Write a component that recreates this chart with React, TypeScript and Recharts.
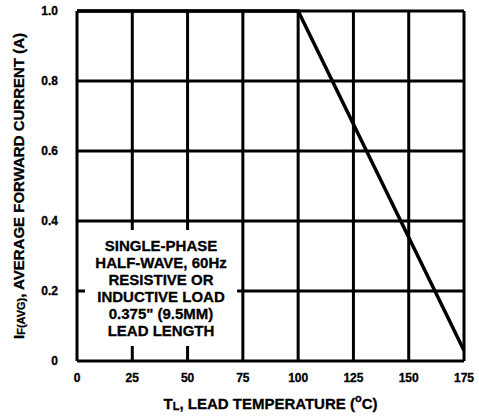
import React from 'react';
import { LineChart, Line, XAxis, YAxis, CartesianGrid, ReferenceArea } from 'recharts';

// Derating curve: lead temperature (°C) vs average forward current (A)
const tempC = [0, 100, 175];
const currentA = [1.0, 1.0, 0.03];

const xTicks = [0, 25, 50, 75, 100, 125, 150, 175];
const yTicks = [0, 0.2, 0.4, 0.6, 0.8, 1.0];

const noteLines = [
  'SINGLE-PHASE',
  'HALF-WAVE, 60Hz',
  'RESISTIVE OR',
  'INDUCTIVE LOAD',
  '0.375" (9.5MM)',
  'LEAD LENGTH',
];

const data = tempC.map((t, i) => ({ t, a: currentA[i] }));

const FONT = '"Liberation Sans", Arial, Helvetica, sans-serif';

const NoteBox = (props: any) => {
  const vb = props.viewBox || {};
  const cx = vb.x + vb.width / 2;
  const cy = vb.y + vb.height / 2;
  const lh = 17;
  const start = cy - ((noteLines.length - 1) * lh) / 2;
  return (
    <g>
      {noteLines.map((s, i) => (
        <text
          key={i}
          x={cx}
          y={start + i * lh}
          textAnchor="middle"
          dominantBaseline="central"
          fontFamily={FONT}
          fontWeight={700}
          fontSize={15}
          fill="#000"
          stroke="#000"
          strokeWidth={0.3}
        >
          {s}
        </text>
      ))}
    </g>
  );
};

const YTitle = (props: any) => {
  const vb = props.viewBox || {};
  const x = 18;
  const cy = vb.y + vb.height / 2;
  return (
    <text
      x={x}
      y={cy}
      transform={`rotate(-90, ${x}, ${cy})`}
      textAnchor="middle"
      dominantBaseline="central"
      fontFamily={FONT}
      fontWeight={700}
      fontSize={15}
      fill="#000"
      stroke="#000"
      strokeWidth={0.3}
    >
      I
      <tspan dy={3} fontSize={11}>F(AVG)</tspan>
      <tspan dy={-3}>, AVERAGE FORWARD CURRENT (A)</tspan>
    </text>
  );
};

const XTitle = (props: any) => {
  const vb = props.viewBox || {};
  const cx = vb.x + vb.width / 2;
  const y = vb.y + 42;
  return (
    <text
      x={cx}
      y={y}
      textAnchor="middle"
      dominantBaseline="central"
      fontFamily={FONT}
      fontWeight={700}
      fontSize={15}
      fill="#000"
      stroke="#000"
      strokeWidth={0.3}
    >
      T
      <tspan dy={3} fontSize={11}>L</tspan>
      <tspan dy={-3}>, LEAD TEMPERATURE (</tspan>
      <tspan dy={-5} fontSize={11}>o</tspan>
      <tspan dy={5}>C)</tspan>
    </text>
  );
};

const tickStyle = { fill: '#000', fontFamily: FONT, fontWeight: 700, fontSize: 12, stroke: '#000', strokeWidth: 0.3 };

export default function App() {
  return (
    <div style={{ position: 'absolute', left: 0, top: 0, width: 479, height: 416, background: '#fff' }}>
      <LineChart
        width={479}
        height={416}
        data={data}
        margin={{ top: 11, right: 15, left: 0, bottom: 0 }}
      >
        <CartesianGrid stroke="#000" strokeWidth={3} />
        <XAxis
          dataKey="t"
          type="number"
          domain={[0, 175]}
          ticks={xTicks}
          height={55}
          axisLine={false}
          tickLine={false}
          tickSize={0}
          tickMargin={12}
          tick={tickStyle}
          label={{ content: (p: any) => <XTitle {...p} /> }}
        />
        <YAxis
          type="number"
          domain={[0, 1]}
          ticks={yTicks}
          width={77}
          axisLine={false}
          tickLine={false}
          tickSize={0}
          tickMargin={19}
          tickFormatter={(v: number) => (v === 0 ? '0' : v.toFixed(1))}
          tick={tickStyle}
          label={{ content: (p: any) => <YTitle {...p} /> }}
        />
        <ReferenceArea
          x1={3.6}
          x2={72.4}
          y1={0.043}
          y2={0.374}
          fill="#fff"
          fillOpacity={1}
          stroke="none"
          ifOverflow="visible"
          label={(p: any) => <NoteBox {...p} />}
        />
        <Line
          type="linear"
          dataKey="a"
          stroke="#000"
          strokeWidth={3.5}
          dot={false}
          isAnimationActive={false}
        />
      </LineChart>
    </div>
  );
}
